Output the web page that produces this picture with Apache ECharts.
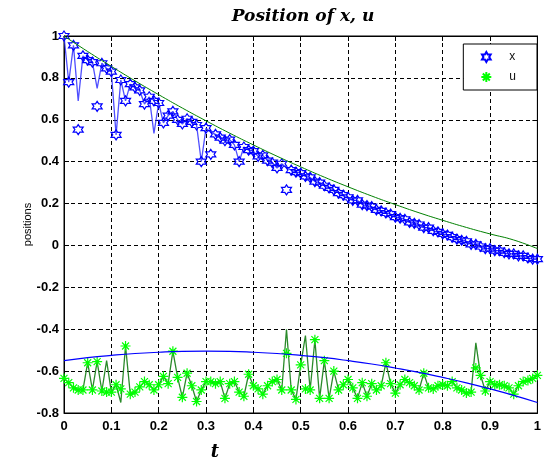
<!DOCTYPE html>
<html>
<head>
<meta charset="utf-8">
<script src="https://cdn.jsdelivr.net/npm/echarts@6/dist/echarts.min.js"></script>
<style>
  html, body { margin: 0; padding: 0; background: #fff; }
  #main { width: 544px; height: 461px; }
</style>
</head>
<body>
<div id="main"></div>
<script>
// 采样步长
var tStep = 0.01;
var tSmoothStep = 0.05;

// x 的标记点 (六角星)
var xMarks = [
  1.00, 0.78, 0.955, 0.553, 0.905, 0.885, 0.875, 0.664, 0.87, 0.845,
  0.83, 0.528, 0.79, 0.69, 0.77, 0.755, 0.74, 0.675, 0.71, 0.69,
  0.68, 0.585, 0.62, 0.64, 0.60, 0.58, 0.605, 0.59, 0.575, 0.40,
  0.56, 0.435, 0.53, 0.515, 0.50, 0.505, 0.48, 0.40, 0.47, 0.455,
  0.45, 0.425, 0.43, 0.405, 0.395, 0.37, 0.39, 0.265, 0.36, 0.35,
  0.345, 0.33, 0.325, 0.305, 0.30, 0.285, 0.275, 0.265, 0.25, 0.24,
  0.23, 0.215, 0.215, 0.195, 0.19, 0.185, 0.17, 0.165, 0.155, 0.15,
  0.135, 0.13, 0.125, 0.11, 0.105, 0.10, 0.085, 0.085, 0.07, 0.065,
  0.055, 0.05, 0.04, 0.03, 0.025, 0.02, 0.005, 0.005, -0.005, -0.015,
  -0.015, -0.025, -0.025, -0.035, -0.04, -0.04, -0.05, -0.05, -0.06, -0.065,
  -0.065
];
// x 的连线
var xLine = [
  1.00, 0.78, 0.955, 0.69, 0.905, 0.885, 0.875, 0.75, 0.87, 0.845,
  0.83, 0.528, 0.79, 0.69, 0.77, 0.755, 0.74, 0.675, 0.71, 0.535,
  0.68, 0.585, 0.62, 0.64, 0.60, 0.58, 0.605, 0.59, 0.575, 0.40,
  0.56, 0.54, 0.53, 0.515, 0.50, 0.505, 0.48, 0.40, 0.47, 0.455,
  0.45, 0.425, 0.43, 0.405, 0.395, 0.37, 0.39, 0.37, 0.36, 0.35,
  0.345, 0.33, 0.325, 0.305, 0.30, 0.285, 0.275, 0.265, 0.25, 0.24,
  0.23, 0.215, 0.215, 0.195, 0.19, 0.185, 0.17, 0.165, 0.155, 0.15,
  0.135, 0.13, 0.125, 0.11, 0.105, 0.10, 0.085, 0.085, 0.07, 0.065,
  0.055, 0.05, 0.04, 0.03, 0.025, 0.02, 0.005, 0.005, -0.005, -0.015,
  -0.015, -0.025, -0.025, -0.035, -0.04, -0.04, -0.05, -0.05, -0.06, -0.065,
  -0.065
];
// u 的标记点 (星号)
var uMarks = [
  -0.635, -0.655, -0.68, -0.69, -0.69, -0.56, -0.69, -0.555, -0.695, -0.70,
  -0.70, -0.665, -0.685, -0.48, -0.71, -0.70, -0.675, -0.65, -0.665, -0.69,
  -0.665, -0.625, -0.66, -0.505, -0.63, -0.725, -0.61, -0.67, -0.745, -0.69,
  -0.65, -0.65, -0.66, -0.65, -0.73, -0.66, -0.65, -0.70, -0.72, -0.615,
  -0.67, -0.685, -0.71, -0.67, -0.65, -0.64, -0.69, -0.515, -0.69, -0.735,
  -0.57, -0.685, -0.69, -0.45, -0.73, -0.55, -0.73, -0.60, -0.69, -0.665,
  -0.64, -0.68, -0.73, -0.655, -0.72, -0.66, -0.69, -0.67, -0.56, -0.66,
  -0.705, -0.665, -0.64, -0.655, -0.67, -0.69, -0.61, -0.68, -0.685, -0.67,
  -0.665, -0.67, -0.65, -0.68, -0.69, -0.705, -0.70, -0.585, -0.62, -0.695,
  -0.65, -0.665, -0.665, -0.67, -0.68, -0.71, -0.67, -0.65, -0.645, -0.635,
  -0.62
];
// u 的连线
var uLine = [
  -0.635, -0.655, -0.68, -0.69, -0.69, -0.56, -0.69, -0.555, -0.695, -0.55,
  -0.70, -0.665, -0.75, -0.48, -0.71, -0.70, -0.675, -0.65, -0.665, -0.69,
  -0.665, -0.625, -0.66, -0.505, -0.63, -0.725, -0.61, -0.67, -0.745, -0.69,
  -0.65, -0.65, -0.66, -0.65, -0.73, -0.66, -0.65, -0.70, -0.72, -0.615,
  -0.67, -0.685, -0.71, -0.67, -0.65, -0.64, -0.69, -0.40, -0.69, -0.735,
  -0.57, -0.43, -0.69, -0.45, -0.73, -0.55, -0.73, -0.60, -0.69, -0.665,
  -0.64, -0.68, -0.73, -0.655, -0.72, -0.66, -0.69, -0.67, -0.56, -0.66,
  -0.705, -0.665, -0.64, -0.655, -0.67, -0.69, -0.61, -0.68, -0.685, -0.67,
  -0.665, -0.67, -0.65, -0.68, -0.69, -0.705, -0.70, -0.465, -0.62, -0.695,
  -0.65, -0.665, -0.665, -0.67, -0.68, -0.71, -0.67, -0.65, -0.645, -0.635,
  -0.62
];
// 平滑参考曲线 (步长 0.05)
var xRef = [
  1.000, 0.926, 0.855, 0.786, 0.720, 0.656, 0.595, 0.536, 0.480, 0.426,
  0.375, 0.326, 0.280, 0.236, 0.195, 0.156, 0.120, 0.086, 0.055, 0.026,
  -0.015
];
var uRef = [
  -0.550, -0.536, -0.525, -0.516, -0.510, -0.506, -0.505, -0.506, -0.510, -0.516,
  -0.525, -0.536, -0.550, -0.566, -0.585, -0.606, -0.630, -0.656, -0.685, -0.716,
  -0.750
];

function pairs(arr, step) {
  return arr.map(function (v, i) {
    return [+(i * step).toFixed(2), v];
  });
}

var hexagram = 'path://M50,0L64.43,25L93.3,25L78.87,50L93.3,75L64.43,75L50,100L35.57,75L6.7,75L21.13,50L6.7,25L35.57,25Z';
var asterisk = 'path://M0,50L100,50M50,0L50,100M15,15L85,85M85,15L15,85';

var myChart = echarts.init(document.getElementById('main'));

var gridDash = { color: '#000', width: 1, type: [4, 3] };
var labelFont = { color: '#000', fontSize: 13, fontWeight: 'bold', fontFamily: 'Liberation Sans' };

var option = {
  animation: false,
  backgroundColor: '#fff',
  grid: {
    left: 64, right: 1, top: 36, bottom: 48,
    show: true, borderColor: '#000', borderWidth: 1
  },
  legend: {
    data: ['x', 'u'],
    orient: 'vertical',
    right: 7,
    top: 44,
    backgroundColor: '#fff',
    borderColor: '#000',
    borderWidth: 1,
    padding: [7, 21, 7, 17],
    itemWidth: 10,
    itemHeight: 10,
    itemGap: 8,
    formatter: function (name) { return '{n|' + name + '}'; },
    textStyle: {
      rich: { n: { fontSize: 12, color: '#111', fontFamily: 'Liberation Sans', padding: [0, 0, 0, 13] } }
    }
  },
  graphic: [
    {
      type: 'text', x: 303, y: 17,
      style: {
        text: 'Position of x, u', fill: '#000',
        font: 'italic bold 17px "DejaVu Serif"',
        align: 'center', verticalAlign: 'middle'
      }
    },
    {
      type: 'text', x: 215, y: 452,
      style: {
        text: 't', fill: '#000',
        font: 'italic bold 18px "DejaVu Serif"',
        align: 'center', verticalAlign: 'middle'
      }
    }
  ],
  xAxis: [
    {
      type: 'value', min: 0, max: 1, interval: 0.1,
      axisLine: { onZero: false, lineStyle: { color: '#000' } },
      axisTick: { inside: true, length: 5, lineStyle: { color: '#000' } },
      axisLabel: Object.assign({ margin: 7 }, labelFont),
      splitLine: { show: true, lineStyle: gridDash }
    },
    {
      type: 'value', min: 0, max: 1, interval: 0.1, position: 'top',
      axisLine: { onZero: false, lineStyle: { color: '#000' } },
      axisTick: { inside: true, length: 5, lineStyle: { color: '#000' } },
      axisLabel: { show: false },
      splitLine: { show: false }
    }
  ],
  yAxis: [
    {
      type: 'value', min: -0.8, max: 1, interval: 0.2,
      name: 'positions', nameLocation: 'middle', nameGap: 31,
      nameMoveOverlap: false,
      nameTextStyle: { color: '#000', fontSize: 11, fontFamily: 'Liberation Sans' },
      axisLine: { onZero: false, lineStyle: { color: '#000' } },
      axisTick: { inside: true, length: 5, lineStyle: { color: '#000' } },
      axisLabel: Object.assign({ margin: 5 }, labelFont),
      splitLine: { show: true, lineStyle: gridDash }
    },
    {
      type: 'value', min: -0.8, max: 1, interval: 0.2, position: 'right',
      axisLine: { onZero: false, lineStyle: { color: '#000' } },
      axisTick: { inside: true, length: 5, lineStyle: { color: '#000' } },
      axisLabel: { show: false },
      splitLine: { show: false }
    }
  ],
  series: [
    {
      name: 'xLine', type: 'line', showSymbol: false,
      data: pairs(xLine, tStep),
      lineStyle: { color: '#3030ff', width: 1.3, opacity: 0.85 },
      z: 2
    },
    {
      name: 'x', type: 'scatter', symbol: hexagram, symbolSize: 10,
      data: pairs(xMarks, tStep),
      itemStyle: { color: 'rgba(0,0,0,0)', borderColor: '#0000ff', borderWidth: 1.2, opacity: 1 },
      z: 3
    },
    {
      name: 'uLine', type: 'line', showSymbol: false,
      data: pairs(uLine, tStep),
      lineStyle: { color: '#2a8a2a', width: 1.3 },
      z: 2
    },
    {
      name: 'u', type: 'scatter', symbol: asterisk, symbolSize: 10,
      data: pairs(uMarks, tStep),
      itemStyle: { color: 'rgba(0,0,0,0)', borderColor: '#00ff00', borderWidth: 1.2, opacity: 1 },
      z: 3
    },
    {
      name: 'xRef', type: 'line', showSymbol: false, smooth: true,
      data: pairs(xRef, tSmoothStep),
      lineStyle: { color: '#008000', width: 1 },
      z: 4
    },
    {
      name: 'uRef', type: 'line', showSymbol: false, smooth: true,
      data: pairs(uRef, tSmoothStep),
      lineStyle: { color: '#0000ff', width: 1.2 },
      z: 4
    }
  ]
};

myChart.setOption(option);
window.addEventListener('resize', function () {
  myChart.resize();
});
</script>
</body>
</html>
